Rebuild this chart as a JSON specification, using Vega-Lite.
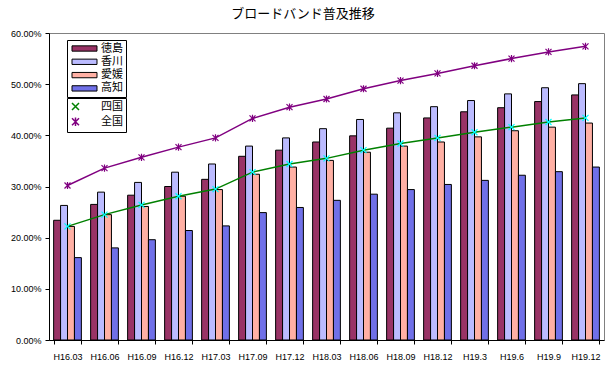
{
  "$schema": "https://vega.github.io/schema/vega-lite/v6.json",
  "width": 555,
  "height": 307,
  "autosize": {"type": "none"},
  "padding": {"left": 49, "top": 33, "right": 2, "bottom": 35},
  "background": "white",
  "config": {"view": {"stroke": "#808080", "strokeWidth": 1}},
  "title": {
    "text": "ブロードバンド普及推移",
    "font": "Noto Sans CJK JP",
    "fontSize": 13,
    "fontWeight": "normal",
    "color": "black",
    "anchor": "middle",
    "dx": -23.5,
    "offset": 8
  },
  "data": {
    "values": [
      {"date": "H16.03", "徳島": 0.234, "香川": 0.263, "愛媛": 0.222, "高知": 0.161, "四国": 0.222, "全国": 0.302},
      {"date": "H16.06", "徳島": 0.265, "香川": 0.289, "愛媛": 0.245, "高知": 0.180, "四国": 0.245, "全国": 0.336},
      {"date": "H16.09", "徳島": 0.283, "香川": 0.308, "愛媛": 0.261, "高知": 0.196, "四国": 0.264, "全国": 0.357},
      {"date": "H16.12", "徳島": 0.300, "香川": 0.328, "愛媛": 0.281, "高知": 0.214, "四国": 0.281, "全国": 0.377},
      {"date": "H17.03", "徳島": 0.314, "香川": 0.344, "愛媛": 0.294, "高知": 0.223, "四国": 0.295, "全国": 0.395},
      {"date": "H17.09", "徳島": 0.359, "香川": 0.379, "愛媛": 0.324, "高知": 0.249, "四国": 0.328, "全国": 0.433},
      {"date": "H17.12", "徳島": 0.371, "香川": 0.395, "愛媛": 0.338, "高知": 0.259, "四国": 0.344, "全国": 0.455},
      {"date": "H18.03", "徳島": 0.387, "香川": 0.413, "愛媛": 0.351, "高知": 0.273, "四国": 0.355, "全国": 0.471},
      {"date": "H18.06", "徳島": 0.399, "香川": 0.431, "愛媛": 0.367, "高知": 0.285, "四国": 0.371, "全国": 0.491},
      {"date": "H18.09", "徳島": 0.414, "香川": 0.444, "愛媛": 0.379, "高知": 0.294, "四国": 0.384, "全国": 0.507},
      {"date": "H18.12", "徳島": 0.434, "香川": 0.456, "愛媛": 0.387, "高知": 0.304, "四国": 0.395, "全国": 0.521},
      {"date": "H19.3", "徳島": 0.446, "香川": 0.468, "愛媛": 0.397, "高知": 0.312, "四国": 0.406, "全国": 0.536},
      {"date": "H19.6", "徳島": 0.454, "香川": 0.481, "愛媛": 0.409, "高知": 0.322, "四国": 0.416, "全国": 0.550},
      {"date": "H19.9", "徳島": 0.466, "香川": 0.493, "愛媛": 0.416, "高知": 0.329, "四国": 0.426, "全国": 0.563},
      {"date": "H19.12", "徳島": 0.479, "香川": 0.501, "愛媛": 0.424, "高知": 0.338, "四国": 0.434, "全国": 0.574}
    ]
  },
  "transform": [
    {"fold": ["徳島", "香川", "愛媛", "高知", "四国", "全国"], "as": ["series", "value"]}
  ],
  "encoding": {
    "x": {
      "field": "date",
      "type": "nominal",
      "sort": ["H16.03", "H16.06", "H16.09", "H16.12", "H17.03", "H17.09", "H17.12", "H18.03", "H18.06", "H18.09", "H18.12", "H19.3", "H19.6", "H19.9", "H19.12"],
      "scale": {"paddingInner": 0.25, "paddingOuter": 0.125},
      "axis": {
        "title": null,
        "labelAngle": 0,
        "labelFont": "Liberation Sans",
        "labelFontSize": 9,
        "labelColor": "black",
        "labelPadding": 8,
        "domainColor": "black",
        "tickColor": "black",
        "tickBand": "extent",
        "tickSize": 4,
        "grid": false
      }
    },
    "y": {
      "field": "value",
      "type": "quantitative",
      "scale": {"domain": [0, 0.6], "nice": false},
      "axis": {
        "title": null,
        "format": ".2%",
        "values": [0, 0.1, 0.2, 0.3, 0.4, 0.5, 0.6],
        "labelFont": "Liberation Sans",
        "labelFontSize": 9,
        "labelColor": "black",
        "labelPadding": 4,
        "domainColor": "black",
        "tickColor": "black",
        "tickSize": 4,
        "grid": false
      }
    }
  },
  "layer": [
    {
      "transform": [{"filter": {"field": "series", "oneOf": ["徳島", "香川", "愛媛", "高知"]}}],
      "mark": {"type": "bar", "stroke": "black", "strokeWidth": 1},
      "encoding": {
        "xOffset": {"field": "series", "type": "nominal", "sort": ["徳島", "香川", "愛媛", "高知"], "scale": {"paddingInner": 0, "paddingOuter": 0}},
        "fill": {
          "field": "series",
          "type": "nominal",
          "scale": {
            "domain": ["徳島", "香川", "愛媛", "高知"],
            "range": ["#993366", "#BBBBFF", "#FFB0A4", "#7070E8"]
          },
          "legend": {
            "title": null,
            "orient": "none",
            "legendX": 18,
            "legendY": 7,
            "strokeColor": "black",
            "fillColor": "white",
            "padding": 3,
            "labelFont": "Noto Sans CJK JP",
            "labelFontSize": 11,
            "labelColor": "black",
            "labelOffset": 20,
            "rowPadding": 1.3,
            "symbolSize": 49,
            "symbolType": "M-1,-0.76H6.14V0.76H-1Z",
            "symbolStrokeColor": "black",
            "symbolStrokeWidth": 1
          }
        }
      }
    },
    {
      "transform": [{"filter": {"field": "series", "oneOf": ["四国", "全国"]}}],
      "mark": {"type": "line", "strokeWidth": 1.5},
      "encoding": {
        "stroke": {
          "field": "series",
          "type": "nominal",
          "scale": {"domain": ["四国", "全国"], "range": ["#008000", "#800080"]},
          "legend": {
            "title": null,
            "orient": "none",
            "legendX": 18,
            "legendY": 65,
            "strokeColor": "black",
            "fillColor": "white",
            "padding": 3,
            "labelFont": "Noto Sans CJK JP",
            "labelFontSize": 11,
            "labelColor": "black",
            "labelOffset": 20,
            "rowPadding": 1.3,
            "symbolSize": 49,
            "symbolType": "M-1,0H6.14",
            "symbolStrokeWidth": 1.5
          }
        }
      }
    },
    {
      "transform": [{"filter": {"field": "series", "oneOf": ["四国", "全国"]}}],
      "mark": {"type": "point", "filled": false, "size": 36, "strokeWidth": 1.2, "opacity": 1},
      "encoding": {
        "shape": {
          "field": "series",
          "type": "nominal",
          "scale": {"domain": ["四国", "全国"], "range": ["M-1,-1L1,1M-1,1L1,-1", "M-1,-1L1,1M-1,1L1,-1M0,-1.2L0,1.2"]},
          "legend": null
        },
        "stroke": {"condition": {"test": "datum.series === '四国'", "value": "#00FFFF"}, "value": "#800080"}
      }
    }
  ]
}
